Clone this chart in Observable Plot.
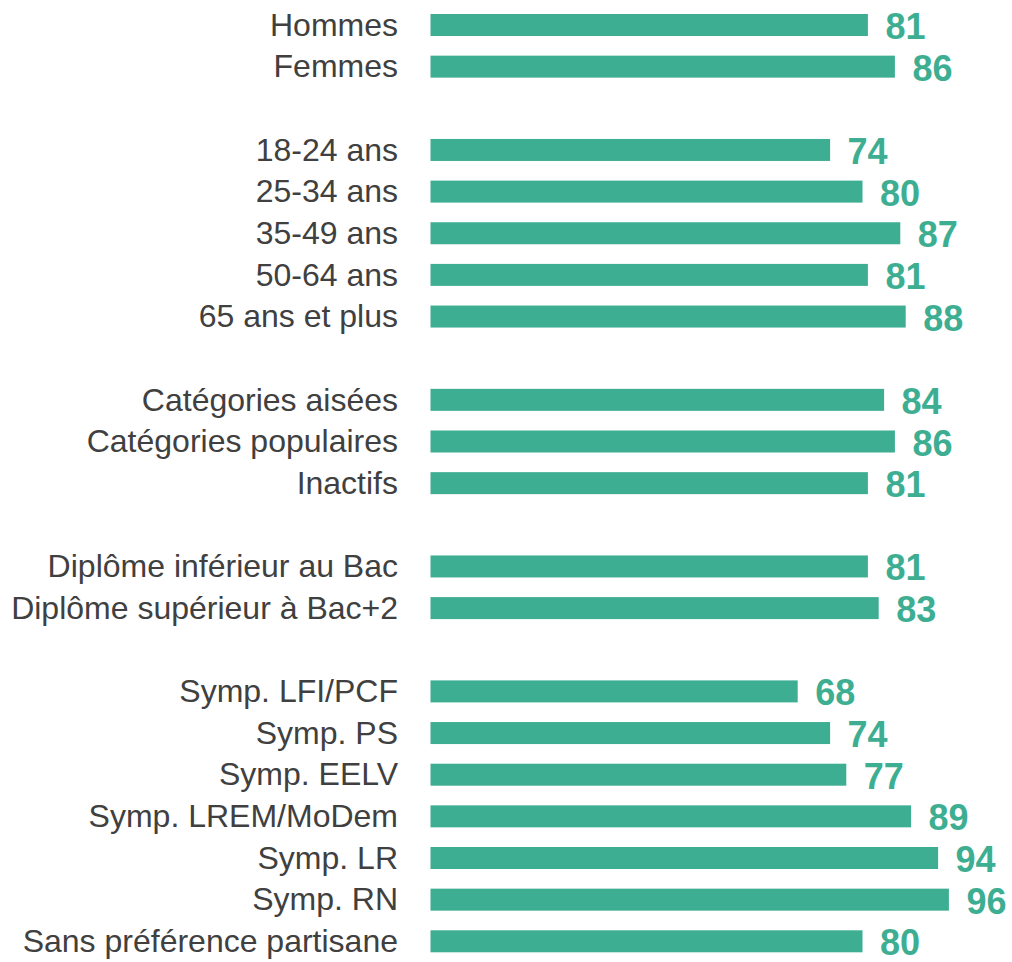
<!DOCTYPE html>
<html>
<head>
<meta charset="utf-8">
<script src="https://cdn.jsdelivr.net/npm/d3@7"></script>
<script src="https://cdn.jsdelivr.net/npm/@observablehq/plot@0.6"></script>
<style>
  html, body { margin: 0; padding: 0; background: #fff; }
  #chart svg { overflow: visible; font-family: "Liberation Sans", Arial, sans-serif !important; }
  #chart svg text { font-family: "Liberation Sans", Arial, sans-serif !important; }
</style>
</head>
<body>
<div id="chart"></div>
<script>
const categories = [
  "Hommes", "Femmes",
  "18-24 ans", "25-34 ans", "35-49 ans", "50-64 ans", "65 ans et plus",
  "Catégories aisées", "Catégories populaires", "Inactifs",
  "Diplôme inférieur au Bac", "Diplôme supérieur à Bac+2",
  "Symp. LFI/PCF", "Symp. PS", "Symp. EELV", "Symp. LREM/MoDem", "Symp. LR", "Symp. RN", "Sans préférence partisane"
];
const values = [81, 86, 74, 80, 87, 81, 88, 84, 86, 81, 81, 83, 68, 74, 77, 89, 94, 96, 80];
const groupSizes = [2, 5, 3, 2, 7];

const green = "#3dae91";
const data = categories.map((c, i) => ({category: c, value: values[i]}));

// row order with blank spacer rows between groups
const domain = [];
let k = 0;
groupSizes.forEach((n, g) => {
  if (g > 0) domain.push(" ".repeat(g));
  for (let j = 0; j < n; j++) domain.push(categories[k++]);
});

const plotHeight = 962, plotTop = 14;
const rowStep = 41.65, barBand = 22;
const pad = 1 - barBand / rowStep;
const plotBottom = plotHeight - plotTop - rowStep * (domain.length - pad);

const chart = Plot.plot({
  width: 1012,
  height: plotHeight,
  marginLeft: 430.5,
  marginRight: 41.5,
  marginTop: plotTop,
  marginBottom: plotBottom,
  style: {color: "#404040", background: "#fff"},
  x: {domain: [0, 100], axis: null},
  y: {domain, paddingInner: pad, paddingOuter: 0, round: false, label: null},
  marks: [
    Plot.axisY({tickSize: 0, tickPadding: 33, fontSize: 32, dy: 0, label: null}),
    Plot.barX(data, {y: "category", x: "value", fill: green}),
    Plot.text(data, {
      y: "category", x: "value", text: d => String(d.value),
      textAnchor: "start", dx: 17, dy: 2,
      fontSize: 36, fontWeight: "bold", fill: green
    })
  ]
});
document.getElementById("chart").appendChild(chart);
</script>
</body>
</html>
